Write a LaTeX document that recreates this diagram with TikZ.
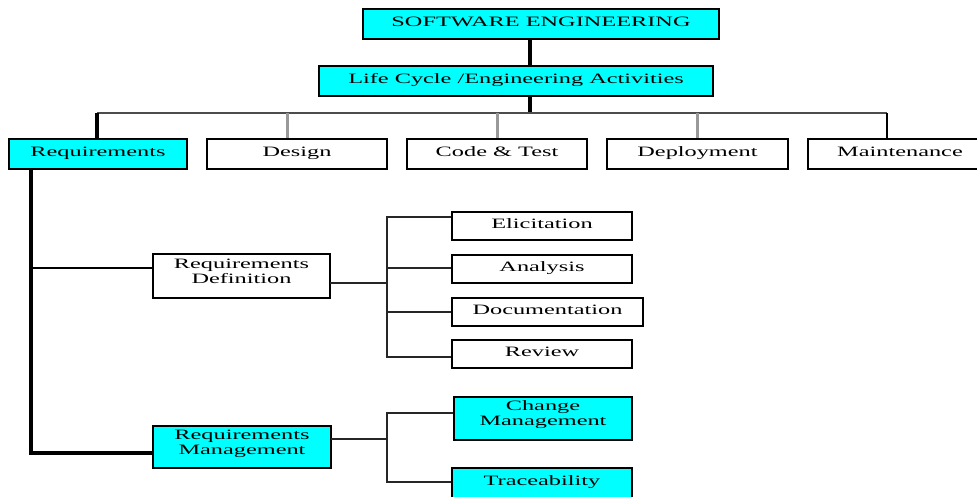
\documentclass[tikz,border=0pt]{standalone}
\usepackage{fontspec}
\setmainfont{Liberation Serif}[FakeStretch=1.7]
\definecolor{boxcyan}{RGB}{0,255,255}
\begin{document}
\begin{tikzpicture}[x=1pt,y=-1pt,
  box/.style={draw=black,line width=1.2pt,inner sep=0pt,align=center,
    font=\fontsize{14.3}{15}\selectfont},
  one/.style={text height=9.5pt,text depth=5pt},
  two/.style={text height=24.5pt,text depth=10pt},
  cbox/.style={box,fill=boxcyan},
  wbox/.style={box,fill=white},
  thickline/.style={line width=4.5pt,black},
  grayline/.style={line width=3pt,gray!80},
  busline/.style={line width=1.8pt,black!70},
  thinline/.style={line width=1.2pt,black!85}]
\useasboundingbox (0,0) rectangle (977,496);
\clip (0,0) rectangle (977,496);
\fill[white] (0,0) rectangle (977,496);
% top level
\node[cbox,one,minimum width=356pt,minimum height=30pt] (se) at (541,24) {SOFTWARE ENGINEERING};
\node[cbox,one,minimum width=394pt,minimum height=30pt] (lc) at (516,81) {Life Cycle /Engineering Activities};
% second level
\node[cbox,one,minimum width=178pt,minimum height=30pt] (req) at (98,154) {Requirements};
\node[wbox,one,minimum width=180pt,minimum height=30pt] (des) at (297,154) {Design};
\node[wbox,one,minimum width=180pt,minimum height=30pt] (cod) at (497,154) {Code \& Test};
\node[wbox,one,minimum width=181pt,minimum height=30pt] (dep) at (697.5,154) {Deployment};
\node[wbox,one,minimum width=184pt,minimum height=30pt] (mai) at (900,154) {Maintenance};
% requirements subtree
\node[wbox,two,minimum width=177pt,minimum height=44pt] (rd) at (241.5,276) {Requirements\\Definition};
\node[cbox,two,minimum width=178pt,minimum height=42pt] (rm) at (242,447) {Requirements\\Management};
\node[wbox,one,minimum width=180pt,minimum height=28pt] (eli) at (542,226) {Elicitation};
\node[wbox,one,minimum width=180pt,minimum height=28pt] (ana) at (542,269) {Analysis};
\node[wbox,one,minimum width=191pt,minimum height=28pt] (doc) at (547.5,312) {Documentation};
\node[wbox,one,minimum width=180pt,minimum height=28pt] (rev) at (542,354) {Review};
\node[cbox,two,minimum width=178pt,minimum height=43pt] (chg) at (543,418.5) {Change\\Management};
\node[cbox,one,minimum width=180pt,minimum height=30pt] (tra) at (542,483) {Traceability};
% connector coordinates
\coordinate (spine) at (530,113);
\coordinate (bL) at (97,113);
\coordinate (bR) at (887,113);
\coordinate (dDes) at (287,113);
\coordinate (dCod) at (497,113);
\coordinate (dDep) at (697,113);
\coordinate (rv) at (31,453);
\coordinate (rdIn) at (31,268);
\coordinate (rdOut) at (330,283);
\coordinate (brA) at (387,217);
\coordinate (brB) at (387,357);
\coordinate (rmOut) at (331,439);
\coordinate (brC) at (387,413);
\coordinate (brD) at (387,482);
% top connectors
\draw[thickline] (se.south -| spine) -- (lc.north -| spine);
\draw[thickline] (lc.south -| spine) -- (spine);
\draw[busline] (bL) -- (bR);
\draw[thickline] (bL) -- (bL |- req.north);
\draw[grayline] (dDes) -- (dDes |- des.north);
\draw[grayline] (dCod) -- (dCod |- cod.north);
\draw[grayline] (dDep) -- (dDep |- dep.north);
\draw[thinline,black] (bR) -- (bR |- mai.north);
% requirements spine
\draw[thickline,line join=miter] (req.south -| rv) -- (rv) -- (rv -| rm.west);
\draw[thinline,black] (rdIn) -- (rdIn -| rd.west);
% definition bracket
\draw[thinline] (rdOut) -- (rdOut -| brA);
\draw[thinline] (brA -| eli.west) -- (brA) -- (brB) -- (brB -| rev.west);
\draw[thinline] (ana.west |- rdIn) -- (rdIn -| brA);
\draw[thinline] (doc.west) -- (doc.west -| brA);
% management bracket
\draw[thinline] (rmOut) -- (rmOut -| brC);
\draw[thinline] (brC -| chg.west) -- (brC) -- (brD) -- (brD -| tra.west);
\end{tikzpicture}
\end{document}
